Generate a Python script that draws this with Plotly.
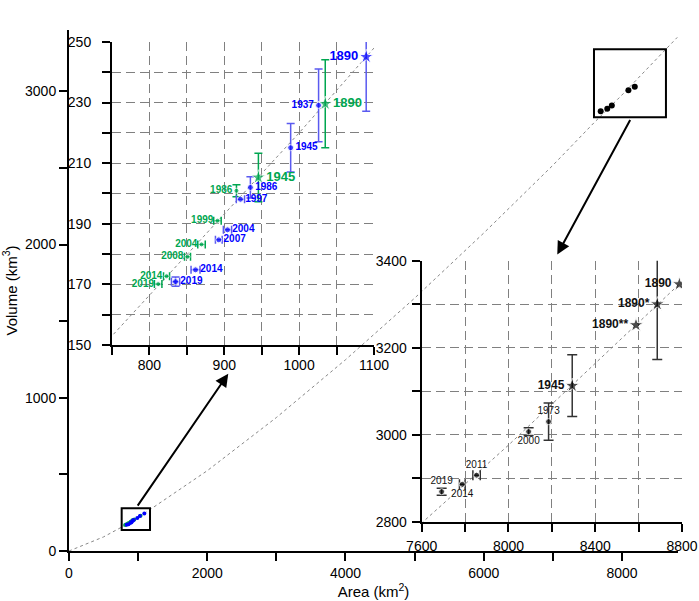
import plotly.graph_objects as go

# area / volume values
curve_area = [0, 500, 750, 1000, 1100, 2000, 3000, 4000, 5000, 6000, 7000, 7600, 8000, 8800]
curve_vol = [0, 92, 153, 220, 248, 524, 871, 1248, 1650, 2075, 2517, 2797, 2976, 3352]

blue_year = ["1890", "1937", "1945", "1986", "1997", "2004", "2007", "2014", "2019"]
blue_area = [1089.6, 1026, 988.7, 934.9, 921.6, 904.3, 892.7, 861.6, 834.9]
blue_vol = [245.1, 229.1, 215.1, 202.0, 198.1, 188.0, 184.7, 174.8, 170.9]
blue_vol_err = [18, 12, 8, 3.5, 0, 0, 0, 0, 1.5]
blue_area_err = [0, 0, 0, 0, 5.5, 5.5, 4.5, 6, 5.5]

green_year = ["1890", "1945", "1986", "1999", "2004", "2008", "2014", "2019"]
green_area = [1034.9, 945.6, 916.3, 890.9, 869.6, 850.9, 822.9, 811.7]
green_vol = [229.6, 205.3, 200.9, 191.0, 183.2, 179.1, 172.7, 170.1]
green_vol_err = [14.5, 8, 2, 0, 0, 0, 0, 0]
green_area_err = [0, 0, 0, 5, 5, 4, 4, 5]

black_year = ["1890", "1890*", "1890**", "1945", "1973", "2000", "2011", "2014", "2019"]
black_area = [8788, 8686, 8588, 8294, 8185, 8093, 7853, 7787, 7692]
black_vol = [3346, 3300, 3252, 3112.6, 3030, 3007, 2907, 2886, 2869]
black_vol_err = [0, 127, 0, 71, 43, 9, 0, 0, 8]
black_area_err = [0, 0, 0, 0, 0, 0, 17, 13, 0]

BLUE = "#0000ff"
BLUE_ERR = "#5a5af0"
GREEN = "#00a650"
FONT = "Arial, Liberation Sans, sans-serif"

fig = go.Figure()


def add_errors(xs, ys, ex, ey, color, xa, ya, width):
    # vertical and horizontal bars drawn in separate invisible traces
    iy = [i for i, e in enumerate(ey) if e > 0]
    ix = [i for i, e in enumerate(ex) if e > 0]
    for idx, key, errs in ((iy, "error_y", ey), (ix, "error_x", ex)):
        if not idx:
            continue
        fig.add_trace(go.Scatter(
            x=[xs[i] for i in idx], y=[ys[i] for i in idx],
            mode="markers", marker=dict(size=1, color="rgba(0,0,0,0)"),
            xaxis=xa, yaxis=ya, showlegend=False, hoverinfo="skip",
            **{key: dict(type="data", array=[errs[i] for i in idx], color=color,
                         thickness=1.5, width=width)}))


# main panel
fig.add_trace(go.Scatter(x=curve_area, y=curve_vol, mode="lines",
                         line=dict(color="#888888", width=1, dash="dot"),
                         showlegend=False, hoverinfo="skip"))
fig.add_trace(go.Scatter(x=green_area, y=green_vol, mode="markers",
                         marker=dict(size=4, color=GREEN), showlegend=False))
fig.add_trace(go.Scatter(x=blue_area, y=blue_vol, mode="markers",
                         marker=dict(size=4, color=BLUE), showlegend=False))
fig.add_trace(go.Scatter(x=black_area[4:], y=black_vol[4:], mode="markers",
                         marker=dict(size=6, color="black"), showlegend=False))

# upper-left inset
fig.add_trace(go.Scatter(x=curve_area, y=curve_vol, mode="lines", xaxis="x2", yaxis="y2",
                         line=dict(color="#888888", width=1, dash="dot"),
                         showlegend=False, hoverinfo="skip"))
add_errors(green_area, green_vol, green_area_err, green_vol_err, GREEN, "x2", "y2", 4)
add_errors(blue_area, blue_vol, blue_area_err, blue_vol_err, BLUE_ERR, "x2", "y2", 4)

green_big = {"1890", "1945"}
green_pos = ["middle right", "middle right"] + ["middle left"] * 6
fig.add_trace(go.Scatter(
    x=green_area, y=green_vol, mode="markers+text", xaxis="x2", yaxis="y2",
    text=["<b>%s</b>" % y for y in green_year], textposition=green_pos,
    textfont=dict(family=FONT, color=GREEN,
                  size=[13 if y in green_big else 10 for y in green_year]),
    marker=dict(color=GREEN, size=[11 if y in green_big else 5 for y in green_year],
                symbol=["star" if y in green_big else "circle" for y in green_year]),
    showlegend=False))

blue_pos = ["middle left", "middle left"] + ["middle right"] * 7
fig.add_trace(go.Scatter(
    x=blue_area, y=blue_vol, mode="markers+text", xaxis="x2", yaxis="y2",
    text=["<b>%s</b>" % y for y in blue_year], textposition=blue_pos,
    textfont=dict(family=FONT, color=BLUE,
                  size=[13 if y == "1890" else 10 for y in blue_year]),
    marker=dict(color=BLUE, size=[11 if y == "1890" else 6 for y in blue_year],
                symbol=["star" if y == "1890" else "circle" for y in blue_year]),
    showlegend=False))

# lower-right inset
fig.add_trace(go.Scatter(x=curve_area, y=curve_vol, mode="lines", xaxis="x3", yaxis="y3",
                         line=dict(color="#888888", width=1, dash="dot"),
                         showlegend=False, hoverinfo="skip"))
add_errors(black_area, black_vol, black_area_err, black_vol_err, "#333333", "x3", "y3", 5)

black_big = {"1890", "1890*", "1890**", "1945"}
black_pos = ["middle left"] * 4 + ["top center", "bottom center", "top center",
                                   "bottom center", "top center"]
fig.add_trace(go.Scatter(
    x=black_area, y=black_vol, mode="markers+text", xaxis="x3", yaxis="y3",
    text=["<b>%s</b>" % y if y in black_big else y for y in black_year],
    textposition=black_pos,
    textfont=dict(family=FONT, color="#111111",
                  size=[12 if y in black_big else 10 for y in black_year]),
    marker=dict(color="black", size=[11 if y in black_big else 6 for y in black_year],
                symbol=["star" if y in black_big else "circle" for y in black_year]),
    showlegend=False))

axis_common = dict(showline=True, linecolor="black", linewidth=2, ticks="outside",
                   ticklen=8, tickwidth=1.5, tickcolor="black", zeroline=False,
                   automargin=False,
                   tickfont=dict(family=FONT, size=14, color="black"), tickmode="array")
grid_common = dict(showgrid=True, gridcolor="#808080", gridwidth=1, griddash="9px,5px")


def labels(vals, every):
    return [str(v) if i % every == 0 else "" for i, v in enumerate(vals)]


mx = list(range(0, 9000, 1000))
my = list(range(0, 3500, 500))
ix2 = list(range(750, 1150, 50))
iy2 = list(range(150, 260, 10))
ix3 = list(range(7600, 9000, 200))
iy3 = list(range(2800, 3500, 100))

fig.update_layout(
    width=699, height=601,
    margin=dict(l=69, r=15, t=30, b=50),
    paper_bgcolor="white", plot_bgcolor="rgba(0,0,0,0)",
    font=dict(family=FONT, size=14, color="black"),
    xaxis=dict(domain=[0, 0.9902], range=[0, 8810], tickvals=mx, ticktext=labels(mx, 2),
               showgrid=False, title=dict(text="Area (km<sup>2</sup>)", standoff=6,
                                          font=dict(size=15)), **axis_common),
    yaxis=dict(domain=[0, 1], range=[0, 3400], tickvals=my, ticktext=labels(my, 2),
               showgrid=False, title=dict(text="Volume (km<sup>3</sup>)", standoff=4,
                                          font=dict(size=15)), **axis_common),
    xaxis2=dict(domain=[0.0699, 0.4959], range=[750, 1100], anchor="y2",
                tickvals=ix2, ticktext=[""] + labels(ix2[1:], 2), ticklabelstandoff=-2,
                **grid_common, **axis_common),
    yaxis2=dict(domain=[0.3954, 0.9770], range=[150, 250], anchor="x2",
                tickvals=iy2, ticktext=labels(iy2, 2), ticklabelstandoff=8,
                **grid_common, **axis_common),
    xaxis3=dict(domain=[0.5735, 0.9967], range=[7600, 8800], anchor="y3",
                tickvals=ix3, ticktext=labels(ix3, 2), ticklabelstandoff=2,
                **grid_common, **axis_common),
    yaxis3=dict(domain=[0.0562, 0.5572], range=[2800, 3400], anchor="x3",
                tickvals=iy3, ticktext=labels(iy3, 2), ticklabelstandoff=2,
                **grid_common, **axis_common),
    shapes=[
        dict(type="rect", xref="x", yref="y", x0=762, x1=1172, y0=137, y1=279,
             line=dict(color="black", width=2)),
        dict(type="rect", xref="x", yref="y", x0=7595, x1=8636, y0=2830, y1=3275,
             line=dict(color="black", width=2)),
    ],
    annotations=[
        dict(xref="x", yref="y", axref="x", ayref="y", x=2304, y=1157, ax=979, ay=286,
             text="", showarrow=True, arrowhead=2, arrowsize=1.3, arrowwidth=2,
             arrowcolor="black"),
        dict(xref="x", yref="y", axref="x", ayref="y", x=7064, y=1935, ax=8130, ay=2822,
             text="", showarrow=True, arrowhead=2, arrowsize=1.3, arrowwidth=2,
             arrowcolor="black"),
    ],
)

# drop the page's default body margin so the figure sits at the window corner
fig.write_html("out.html", config={"displayModeBar": False},
               post_script="document.body.style.margin='0';")
